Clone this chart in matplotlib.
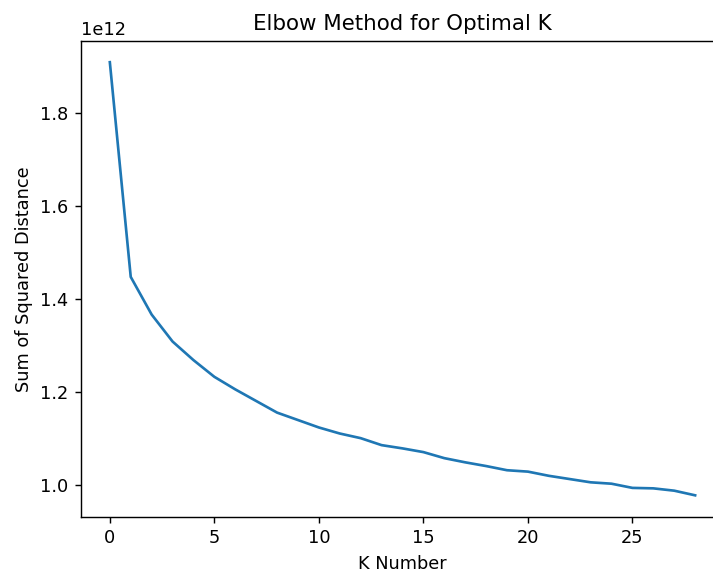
import numpy as np
import matplotlib.pyplot as plt

# Soma das distâncias quadradas para cada K (em unidades de 1e12)
k_values = list(range(29))
sse = [
    1.910, 1.448, 1.367, 1.309, 1.269, 1.233, 1.206, 1.181, 1.156, 1.140,
    1.124, 1.111, 1.101, 1.086, 1.079, 1.071, 1.058, 1.049, 1.041, 1.032,
    1.029, 1.020, 1.013, 1.006, 1.003, 0.994, 0.993, 0.988, 0.978
]

fig = plt.figure(figsize=(713 / 128, 571 / 128), dpi=128)
ax = fig.add_subplot(111)
ax.plot(k_values, np.array(sse) * 1e12)
ax.set_title('Elbow Method for Optimal K')
ax.set_xlabel('K Number')
ax.set_ylabel('Sum of Squared Distance')
# a figura original parece recortada à direita
fig.subplots_adjust(left=0.113, right=1.016, top=0.929, bottom=0.0946)
fig.savefig('out.png')
